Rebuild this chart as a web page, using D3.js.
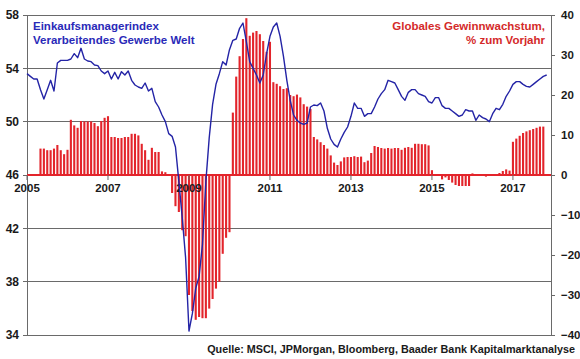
<!DOCTYPE html>
<html><head><meta charset="utf-8">
<script src="https://cdn.jsdelivr.net/npm/d3@7"></script>
<style>
body{margin:0;background:#fff;}
svg{display:block;font-family:"Liberation Sans",Arial,sans-serif;}
</style>
</head><body>
<svg id="chart" width="580" height="359"></svg>
<script>
// ---------- data ----------
const startYear = 2005;            // first month = Jan 2005, monthly data
const pmi = [
53.6,53.4,53.2,53.2,52.4,51.7,52.4,53.1,52.3,54.4,
54.6,54.6,54.6,54.7,55.1,54.8,55.5,54.7,54.55,54.5,
54.25,54.2,53.8,53.6,53.8,53.2,53.7,53.2,53.75,53.5,
53.8,53.1,52.75,52.6,52.5,52.9,52.3,52.5,51.5,51.1,
50.5,50,49.1,48.9,48.1,45.5,42.8,39.8,34.3,35.6,
37.5,38.4,40.8,45.5,48.8,51.3,52.8,53.6,54.5,54.25,
55.4,56.1,56.2,57,57.4,56,54.5,54,53.5,52.9,
53.5,55.1,56.4,57.1,57.4,56.4,54.9,53.1,51.6,50.5,
50.1,49.9,49.8,49.9,51.1,51.25,51.2,51.4,50.8,49.5,
48.7,48.3,48.1,48.7,49.2,49.6,50.4,51.4,51,51,
50.4,50.6,50.6,51.1,51.7,52.1,52.4,53.1,53,52.9,
52.4,51.9,51.6,52.2,52.4,52.4,52.1,52,51.9,51.5,
51.4,51.8,51.8,51.2,51,51,50.8,50.6,50.4,50.5,
50.9,50.8,50.8,50.1,50.5,50.3,50.2,50,50.6,51,
50.9,51.3,51.9,52.3,52.8,53,53,52.8,52.65,52.6,
52.8,53,53.2,53.4,53.5
];
const growth = [
null,null,null,null,
6.6,6.6,6.2,6.2,6.6,7.5,6.2,5.2,6.3,
13.8,12.4,11.8,13.5,13.4,13.4,13.4,13.0,12.2,13.5,14.3,14.7,
9.5,9.5,9.25,9.25,9.5,9.5,10.3,10.3,9.9,7.8,6.2,3.8,6.8,5.75,5.75,0.9,0.7,0.1,
-4.5,-7.8,-9.25,-13.8,-15.3,-30,-34,-36.2,-35.5,-35.8,-35.8,-33.4,-31,-28.4,-26.7,-19.7,-15.7,-14.3,
15.6,24.6,29.7,34,39.2,34.8,35.6,36,35.2,33.5,30.8,33.3,23.2,22.8,22.2,21.5,21.7,20,19.7,20.1,19.4,17.7,17.1,16.5,
9.5,8.9,8.2,7.5,6.6,4.9,3.1,2.5,3.4,4.4,4.5,4.5,4.7,4.5,4.6,3.2,3.6,5.5,7.25,7,
6.75,6.6,6.75,6.6,6.75,6.75,6.3,6.8,7,6.8,7.8,7.8,7.7,7.7,7.4,1.2,
0.1,0.1,-1.1,-0.6,-1.25,-1.9,-2.5,-2.75,-2.75,-2.75,-2.75,
0.4,0.25,0.25,0.2,-0.4,0.1,0.1,0.2,0.5,1.0,1.4,1.1,
8.3,9.1,9.8,10.5,10.9,11.2,11.5,11.8,12.1,12.1
];
const leftTicks = [34,38,42,46,50,54,58];
const rightTicks = [-40,-30,-20,-10,0,10,20,30,40];
const yearTicks = [2005,2007,2009,2011,2013,2015,2017];
const titleLeft = ["Einkaufsmanagerindex","Verarbeitendes Gewerbe Welt"];
const titleRight = ["Globales Gewinnwachstum,","% zum Vorjahr"];
const sourceText = "Quelle: MSCI, JPMorgan, Bloomberg, Baader Bank Kapitalmarktanalyse";

// ---------- layout ----------
const svg = d3.select("#chart");
const L = 27, R = 551, T = 15, B = 335;
const x = d3.scaleLinear().domain([2005, 2017.94]).range([L, R]);
const yL = d3.scaleLinear().domain([34, 58]).range([B, T]);
const yR = d3.scaleLinear().domain([-40, 40]).range([B, T]);
const monthPos = i => x(startYear + i / 12);

const gridCol = "#6a6a6a", red = "#e3242b", blue = "#2424a6", txt = "#1a1a1a";

// gridlines (left axis)
svg.append("g").selectAll("line").data(leftTicks).join("line")
  .attr("x1", L - 4).attr("x2", R).attr("y1", d => yL(d)).attr("y2", d => yL(d))
  .attr("stroke", gridCol).attr("stroke-width", 1).attr("shape-rendering", "crispEdges");

// left axis line
svg.append("line").attr("x1", L).attr("x2", L).attr("y1", T).attr("y2", B)
  .attr("stroke", gridCol).attr("shape-rendering", "crispEdges");
// right axis (d3 axis)
const rAxis = svg.append("g").attr("transform", `translate(${R},0)`)
  .call(d3.axisRight(yR).tickValues(rightTicks).tickSize(4).tickPadding(6).tickFormat(d3.format("d")));
rAxis.select(".domain").attr("stroke", gridCol).attr("shape-rendering", "crispEdges");
rAxis.selectAll(".tick line").attr("stroke", gridCol);
rAxis.selectAll("text").attr("font-size", 11.5).attr("font-weight", "bold")
  .attr("fill", txt).attr("font-family", "Liberation Sans, Arial, sans-serif");

// left labels
svg.append("g").selectAll("text").data(leftTicks).join("text")
  .attr("x", 19).attr("y", d => yL(d)).attr("dy", "0.36em").attr("text-anchor", "end")
  .attr("font-size", 12).attr("font-weight", "bold").attr("fill", txt).text(d => d);

// bars
const bw = 2.1;
svg.append("g").selectAll("rect").data(growth.map((v, i) => ({v, i})).filter(d => d.v !== null))
  .join("rect")
  .attr("x", d => monthPos(d.i) - bw / 2)
  .attr("width", bw)
  .attr("y", d => Math.min(yR(d.v), yR(0)))
  .attr("height", d => Math.abs(yR(d.v) - yR(0)))
  .attr("fill", red);

// zero line (red)
svg.append("line").attr("x1", L).attr("x2", R).attr("y1", yR(0)).attr("y2", yR(0))
  .attr("stroke", red).attr("stroke-width", 2);

// x ticks + labels
svg.append("g").selectAll("line").data(yearTicks).join("line")
  .attr("x1", d => x(d)).attr("x2", d => x(d)).attr("y1", yR(0)).attr("y2", yR(0) + 5)
  .attr("stroke", gridCol);
svg.append("g").selectAll("text").data(yearTicks).join("text")
  .attr("x", d => x(d)).attr("y", yR(0) + 17).attr("text-anchor", "middle")
  .attr("font-size", 11.5).attr("font-weight", "bold").attr("fill", txt).text(d => d);

// PMI line
svg.append("path").datum(pmi)
  .attr("d", d3.line().x((d, i) => monthPos(i)).y(d => yL(d)))
  .attr("fill", "none").attr("stroke", blue).attr("stroke-width", 1.4).attr("stroke-linejoin", "round");

// titles
svg.append("g").selectAll("text").data(titleLeft).join("text")
  .attr("x", 33).attr("y", (d, i) => 30 + i * 13.5)
  .attr("font-size", 11.5).attr("font-weight", "bold").attr("fill", "#2a2ab8").text(d => d);
svg.append("g").selectAll("text").data(titleRight).join("text")
  .attr("x", 545).attr("y", (d, i) => 30 + i * 13.5).attr("text-anchor", "end")
  .attr("font-size", 11.5).attr("font-weight", "bold").attr("fill", "#d42a2a").text(d => d);

// source
svg.append("text").attr("x", 575).attr("y", 353).attr("text-anchor", "end")
  .attr("font-size", 10.8).attr("font-weight", "bold").attr("fill", txt).text(sourceText);
</script>
</body></html>
